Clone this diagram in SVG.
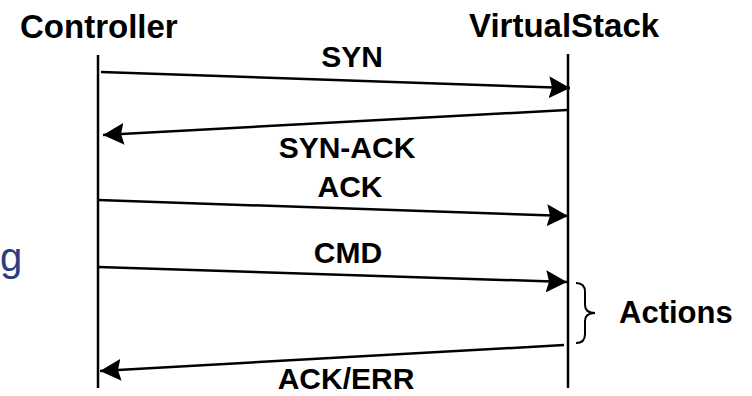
<svg xmlns="http://www.w3.org/2000/svg" width="752" height="396" viewBox="0 0 752 396">
<style>
.lbl{font-family:"Liberation Sans",Arial,sans-serif;font-weight:bold;fill:#000;}
.big{font-size:33px;}
.msg{font-size:30px;text-anchor:middle;}
.life{stroke:#000;stroke-width:2.5;fill:none;}
.arr{stroke:#000;stroke-width:2.5;fill:none;marker-end:url(#ah);}
</style>
<defs>
<marker id="ah" markerUnits="userSpaceOnUse" markerWidth="22" markerHeight="22" refX="21" refY="11" orient="auto" viewBox="0 0 22 22">
<path d="M0,0 L21,11 L0,22 L3,11 Z" fill="#000"/>
</marker>
</defs>
<rect width="752" height="396" fill="#fff"/>
<text x="0" y="271" style="font-family:'Liberation Sans',Arial,sans-serif;font-size:40px;fill:#2e3c82">g</text>
<g id="controller">
<text class="lbl big" x="20" y="38">Controller</text>
<line class="life" x1="98" y1="55" x2="98" y2="388"/>
</g>
<g id="virtualstack">
<text class="lbl big" x="469" y="37">VirtualStack</text>
<line class="life" x1="568" y1="54" x2="568" y2="388"/>
</g>
<g id="actions">
<path d="M576,283 Q585,283 585,292 L585,305 Q585,313 595,313 Q585,313 585,321 L585,334 Q585,343 576,343" fill="none" stroke="#000" stroke-width="2"/>
<text class="lbl" x="619" y="323" style="font-size:31px">Actions</text>
</g>
<g id="connectors">
<line class="arr" x1="101" y1="72" x2="570" y2="88"/>
<line class="arr" x1="567" y1="110" x2="103" y2="135"/>
<line class="arr" x1="98" y1="200" x2="568" y2="216"/>
<line class="arr" x1="98" y1="267" x2="567" y2="282"/>
<line class="arr" x1="564" y1="345" x2="100" y2="371"/>
<text class="lbl msg" x="352" y="67">SYN</text>
<text class="lbl msg" x="347" y="158">SYN-ACK</text>
<text class="lbl msg" x="350" y="197">ACK</text>
<text class="lbl msg" x="348" y="263">CMD</text>
<text class="lbl msg" x="346" y="389">ACK/ERR</text>
</g>
</svg>
